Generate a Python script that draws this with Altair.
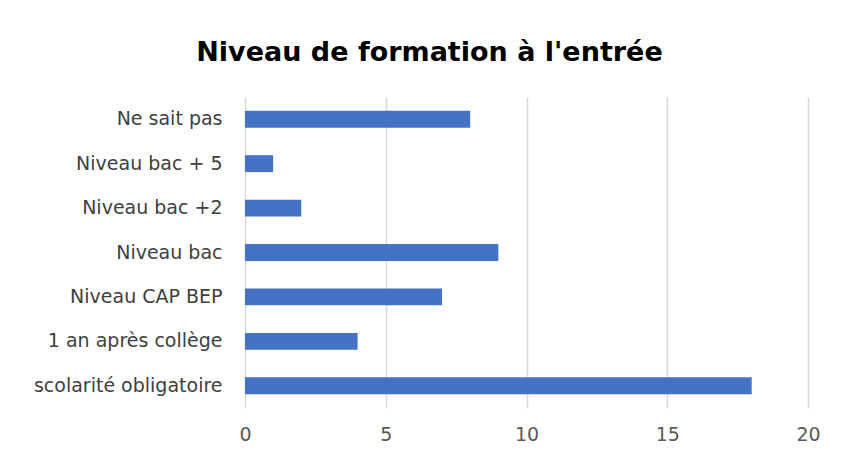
import altair as alt
import pandas as pd

categories = ["Ne sait pas", "Niveau bac + 5", "Niveau bac +2", "Niveau bac",
              "Niveau CAP BEP", "1 an après collège", "scolarité obligatoire"]
values = [8, 1, 2, 9, 7, 4, 18]
x_ticks = [0, 5, 10, 15, 20]

df = pd.DataFrame({"cat": categories, "val": values})

chart = alt.Chart(df).mark_bar(color="#4472C4").encode(
    x=alt.X("val:Q",
            scale=alt.Scale(domain=[0, 20], nice=False),
            axis=alt.Axis(values=x_ticks, title=None, domain=False, ticks=False,
                          grid=True, gridColor="#d9d9d9", gridWidth=1.5,
                          labelFont="DejaVu Sans", labelFontSize=19, labelColor="#595959",
                          labelPadding=17, labelFlush=False)),
    y=alt.Y("cat:N", sort=categories,
            scale=alt.Scale(paddingInner=0.62, paddingOuter=0.31),
            axis=alt.Axis(title=None, domain=False, ticks=False, grid=False,
                          labelFont="DejaVu Sans", labelFontSize=19, labelColor="#404040",
                          labelPadding=23, labelLimit=300)),
).properties(
    width=563,
    height=311,
    title=alt.TitleParams("Niveau de formation à l'entrée", font="DejaVu Sans",
                          fontSize=27, fontWeight="bold", color="#000000",
                          anchor="middle", dx=-97, offset=30),
    autosize=alt.AutoSizeParams(type="none"),
    padding={"left": 237, "top": 89, "right": 27, "bottom": 36},
).configure_view(stroke=None)

chart.save("out.html", embed_options={"renderer": "svg", "actions": False})
